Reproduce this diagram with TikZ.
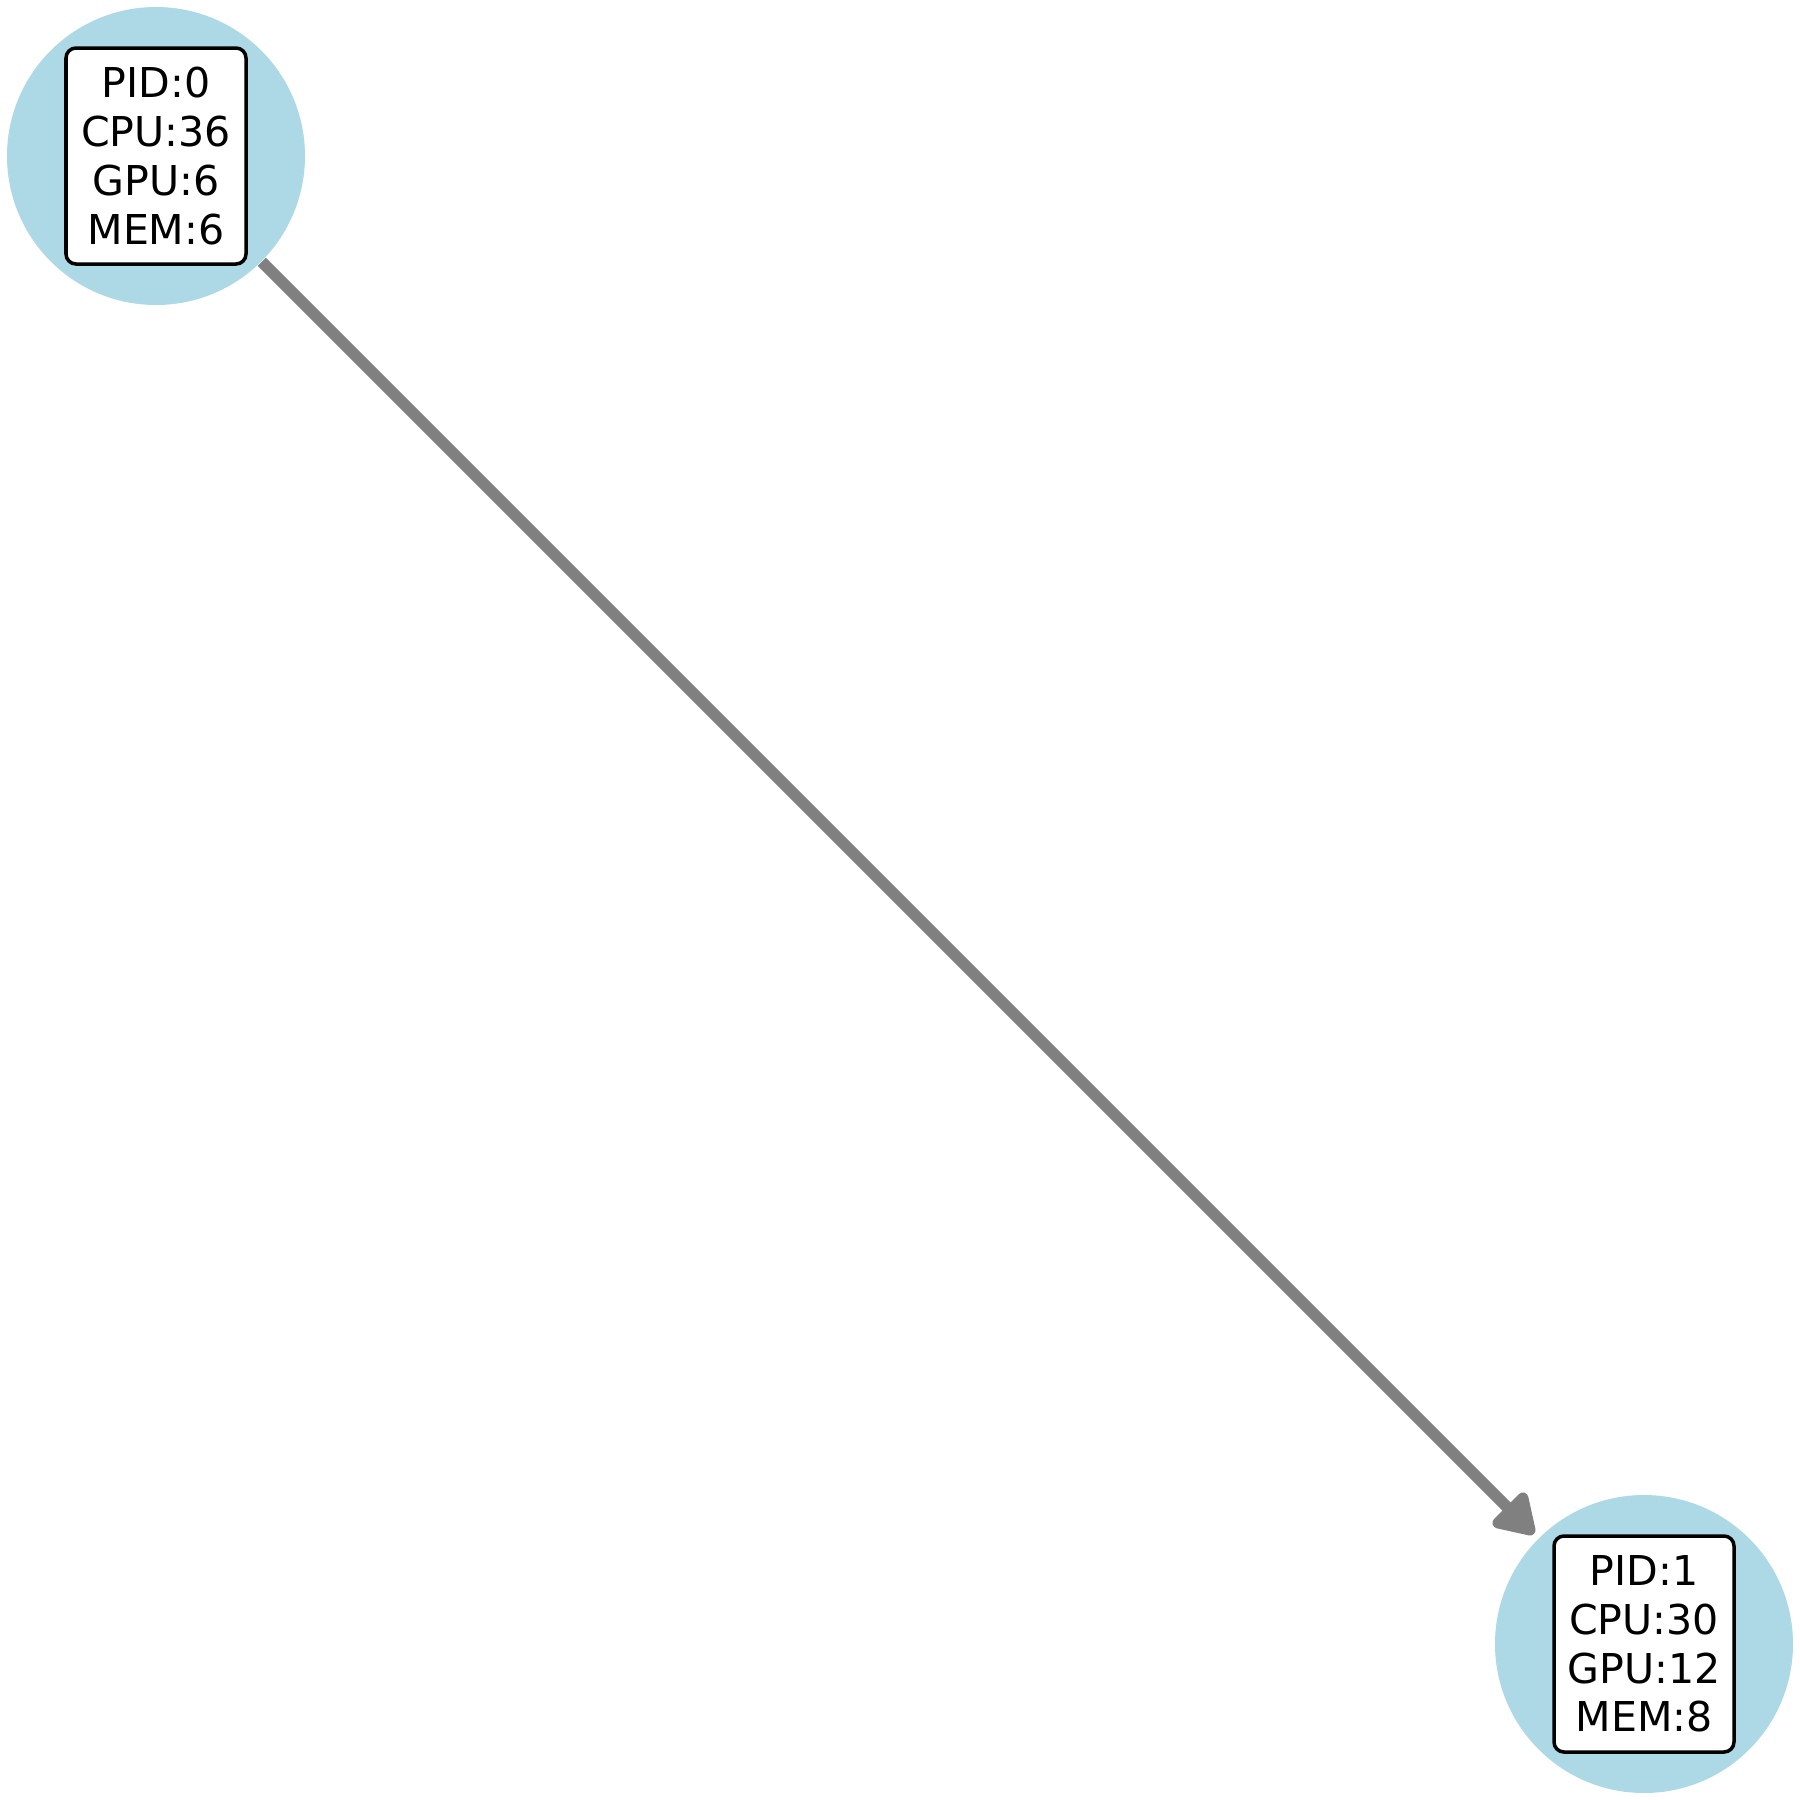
\documentclass[tikz,border=0pt]{standalone}
\usepackage{fontspec}
\setmainfont{DejaVu Sans}
\usepackage{xcolor}
\usetikzlibrary{arrows.meta, positioning}

\definecolor{procblue}{RGB}{173,216,230}
\definecolor{edgegray}{RGB}{128,128,128}

\begin{document}
\begin{tikzpicture}[
    proc/.style={circle, fill=procblue, minimum size=2.98cm, inner sep=0pt},
    info/.style={draw, line width=0.035cm, rounded corners=0.1cm, fill=white,
                 align=center, minimum width=1.8cm, minimum height=2.16cm,
                 inner sep=0.1cm, font=\fontsize{11.7}{13.9}\selectfont},
    arr/.style={-{Triangle[length=0.44cm, width=0.52cm, round]}, line width=0.115cm,
                draw=edgegray, shorten >=0.06cm}
]
\useasboundingbox (0,0) rectangle (18,-18);

\node[proc] (p0) at (1.56,-1.56) {};
\node[proc] (p1) at (16.44,-16.44) {};

\draw[arr] (p0) -- (p1);

\node[info] (l0) at (p0.center) {PID:0\\CPU:36\\GPU:6\\MEM:6};
\node[info] (l1) at (p1.center) {PID:1\\CPU:30\\GPU:12\\MEM:8};
\end{tikzpicture}
\end{document}
